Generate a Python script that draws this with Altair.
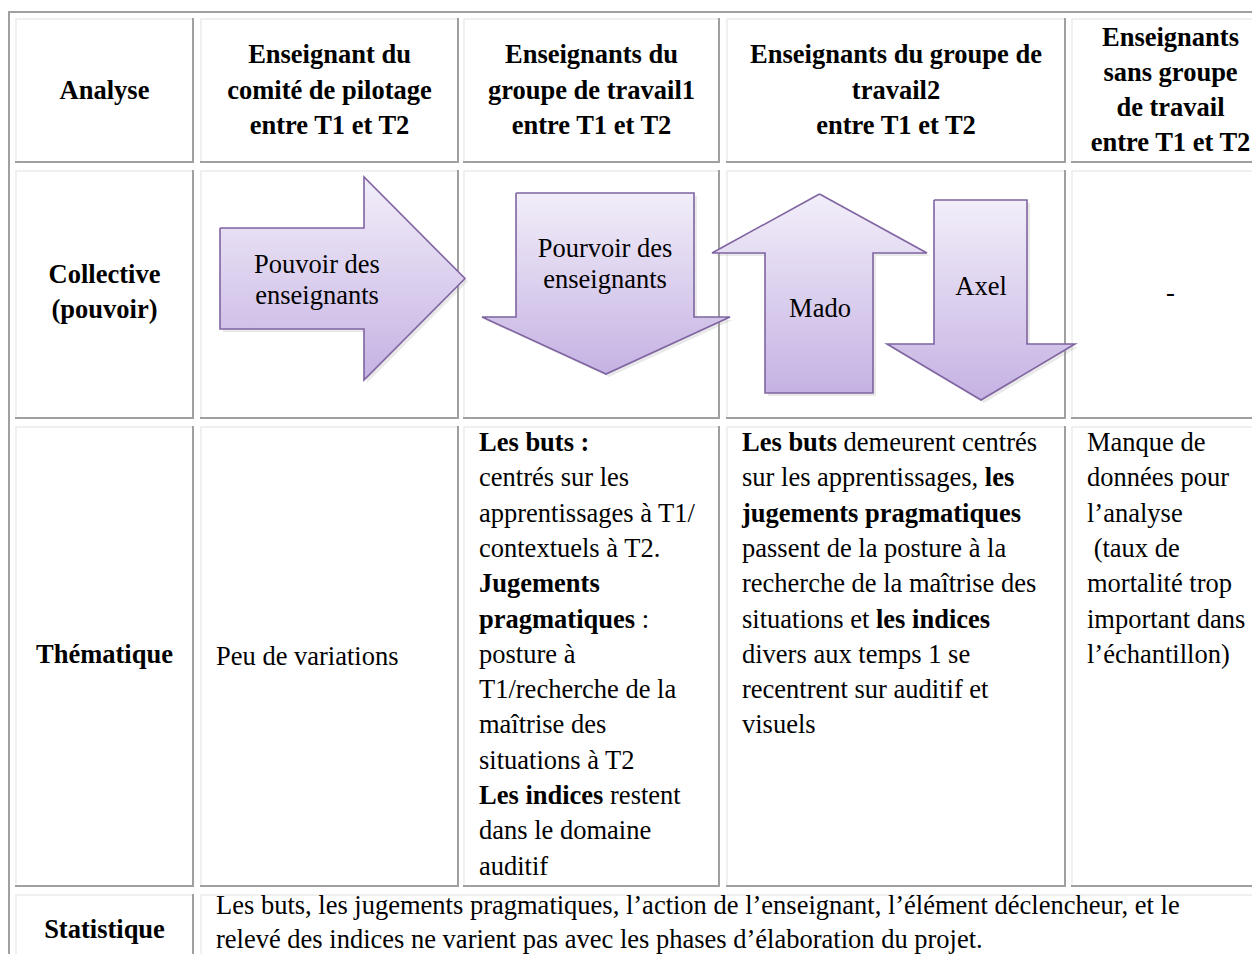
import altair as alt
import pandas as pd

# ---------------- table content ----------------
HEADERS = [
    ["Analyse"],
    ["Enseignant du", "comité de pilotage", "entre T1 et T2"],
    ["Enseignants du", "groupe de travail1", "entre T1 et T2"],
    ["Enseignants du groupe de", "travail2", "entre T1 et T2"],
    ["Enseignants", "sans groupe", "de travail", "entre T1 et T2"],
]
ROW_LABELS = [["Collective", "(pouvoir)"], ["Thématique"], ["Statistique"]]
ARROW_DIRS = ["right", "down", "up", "down"]
ARROW_LABELS = [["Pouvoir des", "enseignants"], ["Pourvoir des", "enseignants"], ["Mado"], ["Axel"]]
COLLECTIVE_LAST = ["-"]
THEM_COL2 = ["Peu de variations"]
THEM_COL3 = ["**Les buts :**", "centrés sur les", "apprentissages à T1/", "contextuels à T2.",
             "**Jugements**", "**pragmatiques** :", "posture à", "T1/recherche de la",
             "maîtrise des", "situations à T2", "**Les indices** restent", "dans le domaine", "auditif"]
THEM_COL4 = ["**Les buts** demeurent centrés", "sur les apprentissages, **les**",
             "**jugements pragmatiques**", "passent de la posture à la",
             "recherche de la maîtrise des", "situations et **les indices**",
             "divers aux temps 1 se", "recentrent sur auditif et", "visuels"]
THEM_COL5 = ["Manque de", "données pour", "l’analyse", " (taux de", "mortalité trop",
             "important dans", "l’échantillon)"]
STATISTIQUE = ["Les buts, les jugements pragmatiques, l’action de l’enseignant, l’élément déclencheur, et le",
               "relevé des indices ne varient pas avec les phases d’élaboration du projet."]

# ---------------- layout (pixels of the page) ----------------
W, H = 1244, 946
FONT = "Liberation Serif"
FS = 26.5
LINE = 35.3
COL_L = [15, 200, 463, 726, 1071]
COL_R = [194, 459, 720, 1066, 1270]
ROW_T = [18, 170, 426, 894]
ROW_B = [163, 419, 887, 970]
PAD = 16
LIGHT, DARK = "#F0F0F0", "#A0A0A0"

# arrow geometry: (shaft box, head box) as (x0, x1, y0, y1)
ARROW_GEOM = [
    ((220, 364, 228, 329), (364, 465, 177, 380)),
    ((516, 694, 193, 317), (482, 730, 317, 374)),
    ((765, 873, 253, 393), (712, 927, 194, 253)),
    ((934, 1027, 200, 344), (887, 1075, 344, 400)),
]
ARROW_TEXT_POS = [(317, 265), (605, 249), (820, 309), (981, 287)]

# ---------------- font metrics (Times metrics) ----------------
_low = "abcdefghijklmnopqrstuvwxyz"
_up = "ABCDEFGHIJKLMNOPQRSTUVWXYZ"
REG = dict(zip(_low, [444, 500, 444, 500, 444, 333, 500, 500, 278, 278, 500, 278, 778, 500, 500, 500, 500, 333, 389, 278, 500, 500, 722, 500, 500, 444]))
REG.update(zip(_up, [722, 667, 667, 722, 611, 556, 722, 722, 333, 389, 722, 611, 889, 722, 722, 556, 722, 667, 556, 611, 722, 722, 944, 722, 722, 611]))
BOLD = dict(zip(_low, [500, 556, 444, 556, 444, 333, 500, 556, 278, 333, 556, 278, 833, 556, 500, 556, 556, 444, 389, 333, 556, 500, 722, 500, 500, 444]))
BOLD.update(zip(_up, [722, 667, 722, 722, 667, 611, 778, 778, 389, 500, 778, 667, 944, 722, 778, 611, 778, 722, 556, 667, 722, 722, 1000, 722, 722, 667]))
for t, c in ((REG, 278), (BOLD, 333)):
    t.update({" ": 250, ",": 250, ".": 250, ":": c, "/": 278, "(": 333, ")": 333, "-": 333, "’": 333,
              "é": 444, "è": 444, "à": t["a"], "î": 278, "1": 500, "2": 500})


def tw(s, bold):
    tab = BOLD if bold else REG
    return sum(tab.get(ch, 500) for ch in s) * FS / 1000.0


texts = []  # x, y, text, bold, align


def add_line(x, y, line, align="left", bold=False):
    if align == "center":
        texts.append(dict(x=x, y=y, t=line, b=bold, a="center"))
        return
    cx = x
    for k, seg in enumerate(line.split("**")):
        if not seg:
            continue
        isb = bold or (k % 2 == 1)
        body = seg.strip(" ")
        lead = len(seg) - len(seg.lstrip(" "))
        trail = len(seg) - len(seg.rstrip(" "))
        cx += tw(" " * lead, isb)
        if body:
            texts.append(dict(x=cx, y=y, t=body, b=isb, a="left"))
            cx += tw(body, isb)
        cx += tw(" " * trail, isb) if body else 0


def block_center(lines, cx, cy, bold):
    n = len(lines)
    for k, ln in enumerate(lines):
        add_line(cx, cy + (k - (n - 1) / 2) * LINE, ln, "center", bold)


for c, lines in enumerate(HEADERS):
    block_center(lines, (COL_L[c] + COL_R[c]) / 2, (ROW_T[0] + ROW_B[0]) / 2, True)
for r, lines in enumerate(ROW_LABELS):
    block_center(lines, (COL_L[0] + COL_R[0]) / 2, (ROW_T[r + 1] + ROW_B[r + 1]) / 2 - 2, True)
for (ax, ay), lines in zip(ARROW_TEXT_POS, ARROW_LABELS):
    for k, ln in enumerate(lines):
        add_line(ax, ay + k * 31, ln, "center")
block_center(COLLECTIVE_LAST, (COL_L[4] + COL_R[4]) / 2, 293, False)
add_line(COL_L[1] + PAD, (ROW_T[2] + ROW_B[2]) / 2, THEM_COL2[0])
for c, lines in ((2, THEM_COL3), (3, THEM_COL4), (4, THEM_COL5)):
    for k, ln in enumerate(lines):
        add_line(COL_L[c] + PAD, ROW_T[2] + 17 + k * LINE, ln)
# last row: kept inside the visible page
for k, ln in enumerate(STATISTIQUE):
    add_line(COL_L[1] + PAD, ROW_T[3] + 12 + k * 34, ln)

tdf = pd.DataFrame(texts)

# ---------------- borders ----------------
rects = []
cells = [(COL_L[c], COL_R[c], ROW_T[r], ROW_B[r]) for r in range(3) for c in range(5)]
cells += [(COL_L[0], COL_R[0], ROW_T[3], ROW_B[3]), (COL_L[1], COL_R[4], ROW_T[3], ROW_B[3])]
for (l, rr, t, b) in cells:
    rects.append(dict(x=l, x2=rr, y=t, y2=t + 2, c=LIGHT))
    rects.append(dict(x=l, x2=l + 2, y=t, y2=b, c=LIGHT))
    rects.append(dict(x=rr - 2, x2=rr, y=t, y2=b, c=DARK))
    rects.append(dict(x=l, x2=rr, y=b - 2, y2=b, c=DARK))
rects.append(dict(x=8, x2=1300, y=11, y2=13, c=DARK))
rects.append(dict(x=8, x2=10, y=11, y2=1000, c=DARK))
rdf = pd.DataFrame(rects)

# ---------------- arrows ----------------
horiz, vert, outline = [], [], []
for i, (d, (s, h)) in enumerate(zip(ARROW_DIRS, ARROW_GEOM)):
    if d == "right":
        ym = (h[2] + h[3]) / 2
        pts = [(s[0], s[2], s[3]), (s[1], s[2], s[3]), (h[0], h[2], h[3]), (h[1], ym, ym)]
        for k, (x, y, y2) in enumerate(pts):
            horiz.append(dict(id=i, x=x, y=y, y2=y2))
        poly = [(s[0], s[2]), (s[1], s[2]), (h[0], h[2]), (h[1], ym), (h[0], h[3]),
                (s[1], s[3]), (s[0], s[3]), (s[0], s[2])]
    else:
        xm = (h[0] + h[1]) / 2
        if d == "down":
            pts = [(s[2], s[0], s[1]), (s[3], s[0], s[1]), (h[2], h[0], h[1]), (h[3], xm, xm)]
            poly = [(s[0], s[2]), (s[1], s[2]), (s[1], s[3]), (h[1], h[2]), (xm, h[3]),
                    (h[0], h[2]), (s[0], s[3]), (s[0], s[2])]
        else:
            pts = [(h[2], xm, xm), (h[3], h[0], h[1]), (s[2], s[0], s[1]), (s[3], s[0], s[1])]
            poly = [(xm, h[2]), (h[1], h[3]), (s[1], s[2]), (s[1], s[3]), (s[0], s[3]),
                    (s[0], s[2]), (h[0], h[3]), (xm, h[2])]
        for k, (y, x, x2) in enumerate(pts):
            vert.append(dict(id=i, y=y, x=x, x2=x2))
    for k, (x, y) in enumerate(poly):
        outline.append(dict(id=i, i=k, x=x, y=y))
hdf = pd.DataFrame(horiz)
vdf = pd.DataFrame(vert)
odf = pd.DataFrame(outline)
SH = 3
hsh = hdf.assign(x=hdf.x + SH, y=hdf.y + SH, y2=hdf.y2 + SH)
vsh = vdf.assign(x=vdf.x + SH, x2=vdf.x2 + SH, y=vdf.y + SH)

xs = alt.Scale(domain=[8, 8 + W], range=[0, W])
ys = alt.Scale(domain=[8, 8 + H], range=[0, H])


def X(f):
    return alt.X(f, type="quantitative", scale=xs, axis=None)


def Y(f):
    return alt.Y(f, type="quantitative", scale=ys, axis=None)


grad = alt.Gradient(gradient="linear",
                    stops=[alt.GradientStop(color="#F2EEF9", offset=0),
                           alt.GradientStop(color="#C5B2E3", offset=1)],
                    x1=0, x2=0, y1=0, y2=1)

border = alt.Chart(rdf).mark_rect(clip=True).encode(
    x=X("x"), x2="x2", y=Y("y"), y2="y2", color=alt.Color("c:N", scale=None))

shadow_h = alt.Chart(hsh).mark_area(orient="vertical", color="#9A9A9A", opacity=0.22).encode(
    x=X("x"), y=Y("y"), y2="y2", detail="id:N")
shadow_v = alt.Chart(vsh).mark_area(orient="horizontal", color="#9A9A9A", opacity=0.22).encode(
    y=Y("y"), x=X("x"), x2="x2", detail="id:N")
arrow_h = alt.Chart(hdf).mark_area(orient="vertical", fill=grad, opacity=1).encode(
    x=X("x"), y=Y("y"), y2="y2", detail="id:N")
arrow_v = alt.Chart(vdf).mark_area(orient="horizontal", fill=grad, opacity=1).encode(
    y=Y("y"), x=X("x"), x2="x2", detail="id:N")
arrow_line = alt.Chart(odf).mark_line(color="#7F64A1", strokeWidth=1.6, strokeJoin="miter").encode(
    x=X("x"), y=Y("y"), order="i:Q", detail="id:N")

text_layers = []
for bold in (True, False):
    for align in ("center", "left"):
        sub = tdf[(tdf.b == bold) & (tdf.a == align)]
        if len(sub) == 0:
            continue
        text_layers.append(
            alt.Chart(sub).mark_text(font=FONT, fontSize=FS, fontWeight="bold" if bold else "normal",
                                     align=align, baseline="middle", color="#000000").encode(
                x=X("x"), y=Y("y"), text="t:N"))

chart = alt.layer(border, shadow_h, shadow_v, arrow_h, arrow_v, arrow_line, *text_layers).properties(
    width=W, height=H, padding=0, background="#FFFFFF",
    autosize=alt.AutoSizeParams(type="none"),
).configure_view(stroke=None)

chart.save("out.html", embed_options={"renderer": "svg", "actions": False})
